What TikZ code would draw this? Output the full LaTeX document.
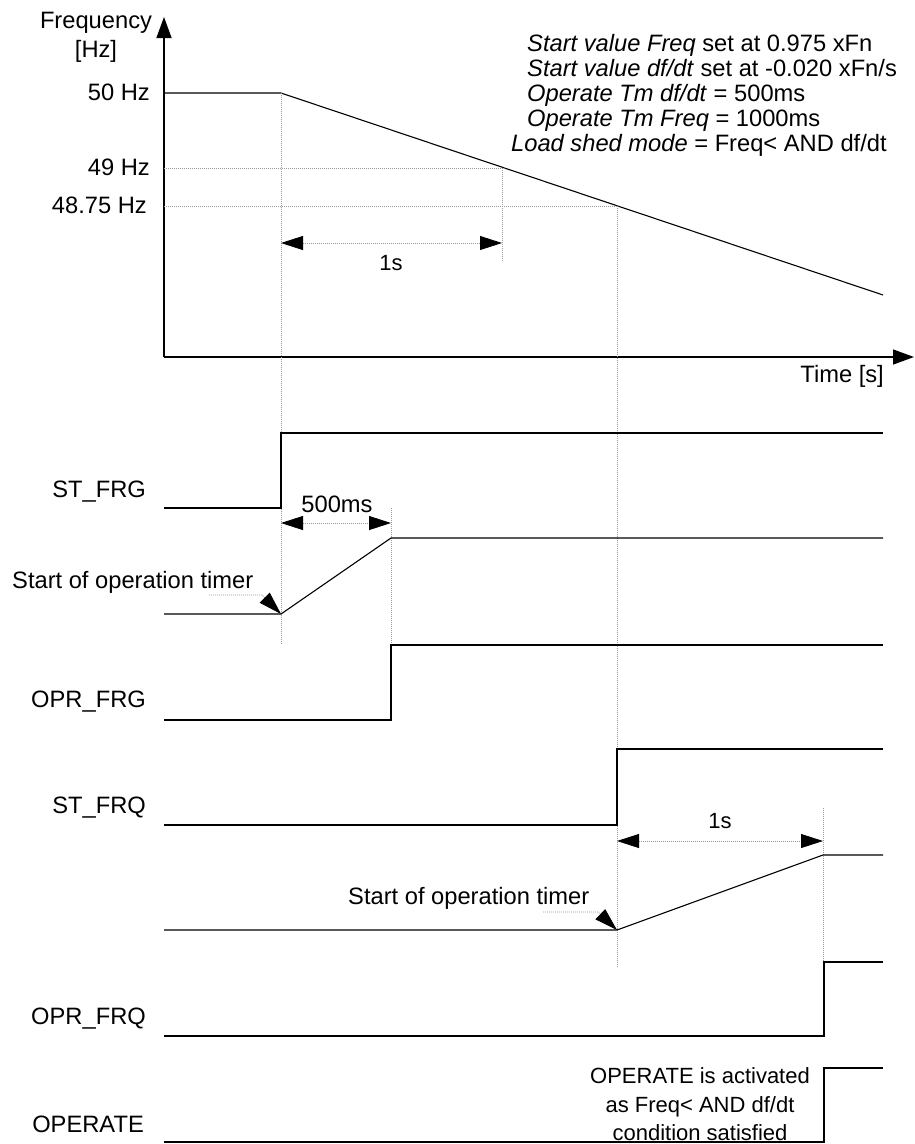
\documentclass[tikz,border=0pt]{standalone}
\usepackage{fontspec}
\setmainfont{Liberation Sans}
\usetikzlibrary{arrows.meta}
\begin{document}
\begin{tikzpicture}[x=1pt,y=-1pt,
  every node/.style={inner sep=0pt, font=\fontsize{23.7}{25}\selectfont},
  small/.style={font=\fontsize{22}{24}\selectfont},
  sig/.style={line width=1.1pt, line join=miter},
  axis/.style={line width=1.4pt, -{Triangle[length=21pt,width=15pt]}},
  guide/.style={gray!80, line width=0.7pt, dash pattern=on 1pt off 1pt},
  dim/.style={gray!80, line width=0.8pt, dash pattern=on 1pt off 1pt,
     {Triangle[length=22pt,width=14pt,color=black]}-{Triangle[length=22pt,width=14pt,color=black]}},
  lead/.style={gray!80, line width=0.8pt, dash pattern=on 1pt off 1pt,
     -{Triangle[length=23pt,width=14pt,color=black]}},
  lbl/.style={anchor=base east},
  note/.style={anchor=base west}]
\useasboundingbox (0,0) rectangle (915,1144);

% axes
\coordinate (O) at (164,357);
\coordinate (ytop) at (164,17);
\coordinate (xend) at (914,357);
\draw[axis] (O) -- (ytop);
\draw[axis] (O) -- (xend);

\node[anchor=base] (freq) at (96,28) {Frequency};
\node[anchor=base] (hz) at (96,57) {[Hz]};
\node[lbl] (t) at (884,382) {Time [s]};
\node[lbl] (f50) at (150,100) {50 Hz};
\node[lbl] (f49) at (150,175) {49 Hz};
\node[lbl] (f4875) at (147,213) {48.75 Hz};

% settings text
\node[note] (n1) at (527,51) {\itshape Start value Freq\/\upshape{} set at 0.975 xFn};
\node[note] (n2) at (527,76) {\itshape Start value df/dt\/\upshape{} set at -0.020 xFn/s};
\node[note] (n3) at (527,101) {\itshape Operate Tm df/dt\/\upshape{} = 500ms};
\node[note] (n4) at (527,126) {\itshape Operate Tm Freq\/\upshape{} = 1000ms};
\node[note] (n5) at (511,151) {\itshape Load shed mode\/\upshape{} = Freq< AND df/dt};

% frequency curve
\coordinate (a0) at (164,93);
\coordinate (a1) at (281,93);
\coordinate (a2) at (883,295);
\draw[sig] (a0) -- (a1) -- (a2);

% guides
\draw[guide] (164,168) -- (504,168);
\draw[guide] (502,168) -- (502,262);
\draw[guide] (164,206) -- (617,206);
\draw[guide] (617,206) -- (617,968);
\draw[guide] (281,93) -- (281,644);
\draw[guide] (391,508) -- (391,645);
\draw[guide] (823,808) -- (823,962);

% 1s top
\coordinate (d1a) at (281,243);
\coordinate (d1b) at (502,243);
\draw[dim] (d1a) -- (d1b);
\node[anchor=base, small] (s1) at (391,270) {1s};

% ST_FRG
\node[lbl] (stfrg) at (146,497) {ST\_FRG};
\draw[sig] (164,508) -- (281,508) -- (281,433) -- (883,433);

% 500ms
\coordinate (d2a) at (281,523);
\coordinate (d2b) at (391,523);
\draw[dim] (d2a) -- (d2b);
\node[anchor=base] (ms500) at (337,512) {500ms};

% ramp 1
\coordinate (r1a) at (281,614);
\draw[sig] (164,614) -- (r1a) -- (391,538) -- (883,538);
\node[note] (sot1) at (12,588) {Start of operation timer};
\coordinate (l1) at (209,595);
\coordinate (l1b) at (262,595);
\draw[lead] (l1) -- (l1b) -- (r1a);

% OPR_FRG
\node[lbl] (oprfrg) at (146,707) {OPR\_FRG};
\draw[sig] (164,720) -- (391,720) -- (391,645) -- (883,645);

% ST_FRQ
\node[lbl] (stfrq) at (146,813) {ST\_FRQ};
\draw[sig] (164,825) -- (617,825) -- (617,749) -- (883,749);

% 1s lower
\coordinate (d3a) at (617,841);
\coordinate (d3b) at (823,841);
\draw[dim] (d3a) -- (d3b);
\node[anchor=base, small] (s2) at (720,828) {1s};

% ramp 2
\coordinate (r2a) at (617,930);
\draw[sig] (164,930) -- (r2a) -- (823,855) -- (883,855);
\node[note] (sot2) at (348,904) {Start of operation timer};
\coordinate (l2) at (543,912);
\coordinate (l2b) at (598,912);
\draw[lead] (l2) -- (l2b) -- (r2a);

% OPR_FRQ
\node[lbl] (oprfrq) at (146,1024) {OPR\_FRQ};
\draw[sig] (164,1036) -- (824,1036) -- (824,962) -- (883,962);

% OPERATE
\node[lbl] (operate) at (144,1132) {OPERATE};
\draw[sig] (164,1142) -- (824,1142) -- (824,1068) -- (883,1068);
\node[anchor=base, small] (c1) at (700,1083) {OPERATE is activated};
\node[anchor=base, small] (c2) at (700,1112) {as Freq< AND df/dt};
\node[anchor=base, small] (c3) at (700,1140) {condition satisfied};
\end{tikzpicture}
\end{document}
